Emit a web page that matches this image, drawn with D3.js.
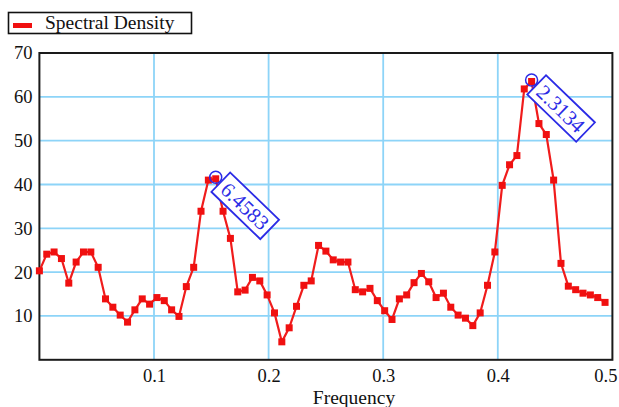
<!DOCTYPE html>
<meta charset="utf-8">
<script src="https://d3js.org/d3.v7.min.js"></script>
<style>
  body { margin: 0; background: #fff; }
  text { font-family: "Liberation Serif", "Times New Roman", serif; }
</style>
<div id="my_dataviz"></div>
<script>

// frequencies (k/156) and spectral density
var freqs = [0, 0.00641, 0.01282, 0.01923, 0.02564, 0.03205, 0.03846, 0.04487, 0.05128, 0.05769,
  0.06410, 0.07051, 0.07692, 0.08333, 0.08974, 0.09615, 0.10256, 0.10897, 0.11538, 0.12179,
  0.12821, 0.13462, 0.14103, 0.14744, 0.15385, 0.16026, 0.16667, 0.17308, 0.17949, 0.18590,
  0.19231, 0.19872, 0.20513, 0.21154, 0.21795, 0.22436, 0.23077, 0.23718, 0.24359, 0.25000,
  0.25641, 0.26282, 0.26923, 0.27564, 0.28205, 0.28846, 0.29487, 0.30128, 0.30769, 0.31410,
  0.32051, 0.32692, 0.33333, 0.33974, 0.34615, 0.35256, 0.35897, 0.36538, 0.37179, 0.37821,
  0.38462, 0.39103, 0.39744, 0.40385, 0.41026, 0.41667, 0.42308, 0.42949, 0.43590, 0.44231,
  0.44872, 0.45513, 0.46154, 0.46795, 0.47436, 0.48077, 0.48718, 0.49359];

var density = [20.3, 24.1, 24.6, 23.1, 17.5, 22.3, 24.6, 24.6, 21.1, 13.9,
  12.0, 10.2, 8.6, 11.4, 13.9, 12.7, 14.2, 13.5, 11.4, 9.9,
  16.7, 21.1, 33.9, 41.0, 41.3, 33.9, 27.7, 15.5, 15.9, 18.8,
  18.0, 14.8, 10.7, 4.1, 7.3, 12.2, 17.0, 18.0, 26.1, 24.8,
  22.8, 22.3, 22.3, 16.0, 15.5, 16.3, 13.5, 11.2, 9.2, 13.9,
  14.8, 17.6, 19.7, 17.8, 14.2, 15.2, 12.0, 10.2, 9.5, 7.8,
  10.7, 17.0, 24.6, 39.8, 44.5, 46.6, 61.8, 63.5, 53.9, 51.4,
  41.0, 22.0, 16.8, 16.0, 15.2, 14.8, 14.2, 13.1];

var xTicks = [0.1, 0.2, 0.3, 0.4, 0.5];
var yTicks = [10, 20, 30, 40, 50, 60, 70];

// marked peaks: index into the series and the label shown
var peakIndex = [24, 67];
var peakLabels = ["6.4583", "2.3134"];

var data = freqs.map(function(f, i) { return {f: f, v: density[i]}; });

var W = 619, H = 407;
var svg = d3.select("#my_dataviz").append("svg")
    .attr("width", W).attr("height", H);

var x = d3.scaleLinear().domain([0, 0.5]).range([39.4, 612.4]);
var y = d3.scaleLinear().domain([0, 70]).range([359.8, 53]);

// grid
svg.append("g").selectAll("line")
  .data(xTicks.slice(0, -1)).enter().append("line")
    .attr("x1", function(d) { return x(d); }).attr("x2", function(d) { return x(d); })
    .attr("y1", y(70)).attr("y2", y(0))
    .attr("stroke", "#8dd4f8").attr("stroke-width", 1.8);
svg.append("g").selectAll("line")
  .data(yTicks.slice(0, -1)).enter().append("line")
    .attr("x1", x(0)).attr("x2", x(0.5))
    .attr("y1", function(d) { return y(d); }).attr("y2", function(d) { return y(d); })
    .attr("stroke", "#8dd4f8").attr("stroke-width", 1.8);

// axes (labels only)
var xAxis = svg.append("g")
    .attr("transform", "translate(0," + y(0) + ")")
    .call(d3.axisBottom(x).tickValues(xTicks).tickSize(0).tickPadding(9).tickFormat(d3.format(".1f")));
var yAxis = svg.append("g")
    .attr("transform", "translate(" + x(0) + ",0)")
    .call(d3.axisLeft(y).tickValues(yTicks).tickSize(0).tickPadding(7));
svg.selectAll(".domain").remove();
svg.selectAll(".tick text")
    .attr("font-family", "Liberation Serif, serif")
    .attr("font-size", 18.5).attr("fill", "#111");
// last x label is pulled in to stay inside the page
xAxis.selectAll(".tick text").filter(function(d) { return d === 0.5; }).attr("dx", -7);

// frame
svg.append("rect")
    .attr("x", x(0)).attr("y", y(70))
    .attr("width", x(0.5) - x(0)).attr("height", y(0) - y(70))
    .attr("fill", "none").attr("stroke", "#1a1a1a").attr("stroke-width", 2);

// line + markers
svg.append("path")
    .datum(data)
    .attr("fill", "none")
    .attr("stroke", "#f01c1c")
    .attr("stroke-width", 2.2)
    .attr("d", d3.line().x(function(d) { return x(d.f); }).y(function(d) { return y(d.v); }));

svg.append("g").selectAll("rect")
  .data(data).enter().append("rect")
    .attr("x", function(d) { return x(d.f) - 3.5; })
    .attr("y", function(d) { return y(d.v) - 3.5; })
    .attr("width", 7).attr("height", 7)
    .attr("fill", "#f01010");

// peak annotations
var blue = "#2b2be6";
peakIndex.forEach(function(k, i) {
  var px = x(freqs[k]), py = y(density[k]) - 1.5;
  svg.append("circle")
      .attr("cx", px).attr("cy", py).attr("r", 6)
      .attr("fill", "none").attr("stroke", blue).attr("stroke-width", 1.5);
  var g = svg.append("g")
      .attr("transform", "translate(" + (px + 29.5) + "," + (py + 28.5) + ") rotate(44)");
  g.append("rect")
      .attr("x", -34).attr("y", -13.5).attr("width", 68).attr("height", 27)
      .attr("fill", "#fff").attr("stroke", blue).attr("stroke-width", 1.8);
  g.append("text")
      .attr("text-anchor", "middle").attr("dy", "0.36em")
      .attr("font-size", 21).attr("fill", blue)
      .text(peakLabels[i]);
});

// x axis title
svg.append("text")
    .attr("x", 354).attr("y", 404)
    .attr("text-anchor", "middle")
    .attr("font-size", 19.5).attr("fill", "#111")
    .text("Frequency");

// legend
var legend = svg.append("g");
legend.append("rect")
    .attr("x", 8.5).attr("y", 12.5).attr("width", 183).attr("height", 21)
    .attr("fill", "#fff").attr("stroke", "#111").attr("stroke-width", 1.6);
legend.append("rect")
    .attr("x", 13).attr("y", 23).attr("width", 19).attr("height", 5)
    .attr("fill", "#f01010");
legend.append("text")
    .attr("x", 45).attr("y", 29)
    .attr("font-size", 19.5).attr("fill", "#111")
    .text("Spectral Density");

</script>
